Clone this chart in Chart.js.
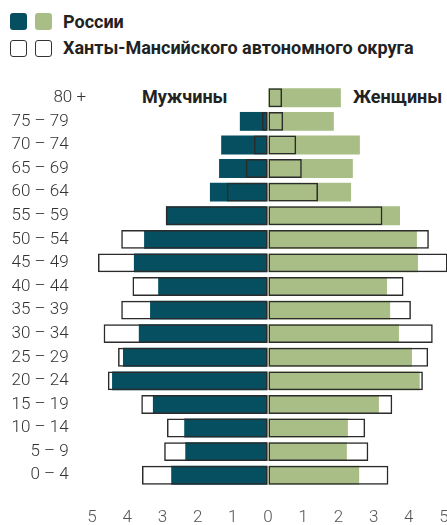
<!DOCTYPE html>
<html>
<head>
<meta charset="utf-8">
<script src="https://cdn.jsdelivr.net/npm/chart.js@4/dist/chart.umd.min.js"></script>
<style>
  html, body { margin: 0; padding: 0; background: #fff; overflow: hidden; }
  body { width: 447px; height: 525px; position: relative; font-family: Roboto, "Noto Sans", sans-serif; }
  #chart { position: absolute; left: 0; top: 0; }
  .sw { position: absolute; width: 17px; height: 17px; border-radius: 3px; box-sizing: border-box; }
  .lbl { position: absolute; font-weight: 700; color: #222; font-size: 18px; white-space: nowrap; line-height: 1; }
</style>
</head>
<body>
<div class="sw" style="left:10px;top:13px;background:#064f60"></div>
<div class="sw" style="left:35px;top:13px;background:#a9be86"></div>
<div class="lbl" style="left:63px;top:13px">России</div>
<div class="sw" style="left:10px;top:40px;border:1.5px solid #333;"></div>
<div class="sw" style="left:35px;top:40px;border:1.5px solid #333;"></div>
<div class="lbl" style="left:63px;top:39px">Ханты-Мансийского автономного округа</div>
<div class="lbl" style="left:142px;top:88px">Мужчины</div>
<div class="lbl" style="left:353px;top:88px">Женщины</div>
<canvas id="chart" width="460" height="530"></canvas>
<script>
// возрастные группы, сверху вниз
const categories = ["80 +", "75 – 79", "70 – 74", "65 – 69", "60 – 64", "55 – 59", "50 – 54", "45 – 49",
    "40 – 44", "35 – 39", "30 – 34", "25 – 29", "20 – 24", "15 – 19", "10 – 14", "5 – 9", "0 – 4"];

// доля, %
const russiaMen   = [0, 0.8, 1.33, 1.39, 1.65, 2.9, 3.52, 3.81, 3.12, 3.35, 3.67, 4.12, 4.43, 3.27, 2.38, 2.35, 2.75];
const russiaWomen = [2.07, 1.87, 2.61, 2.41, 2.36, 3.75, 4.23, 4.26, 3.38, 3.47, 3.72, 4.09, 4.31, 3.15, 2.27, 2.24, 2.59];
const hmaoMen     = [0, 0.17, 0.4, 0.63, 1.17, 2.9, 4.17, 4.83, 3.85, 4.17, 4.67, 4.26, 4.55, 3.6, 2.87, 2.95, 3.58];
const hmaoWomen   = [0.4, 0.43, 0.8, 0.96, 1.42, 3.25, 4.57, 5.1, 3.85, 4.06, 4.68, 4.55, 4.4, 3.53, 2.76, 2.85, 3.42];

const xTicks = [-5, -4, -3, -2, -1, 0, 1, 2, 3, 4, 5];

const neg = arr => arr.map(v => -v);

// пробелы в конце, чтобы "80 +" выступало вправо, как в оригинале
const yLabels = categories.map((c, i) => i === 0 ? c : c + "\u2002\u2002");

const outline = {
    backgroundColor: "rgba(0,0,0,0)",
    borderColor: "#2b2b2b",
    borderWidth: 1.5,
    borderSkipped: false,
    clip: false,
    order: 0
};

new Chart(document.getElementById("chart"), {
    type: "bar",
    data: {
        labels: yLabels,
        datasets: [
            { label: "ХМАО мужчины", data: neg(hmaoMen), ...outline },
            { label: "ХМАО женщины", data: hmaoWomen, ...outline },
            { label: "Россия мужчины", data: neg(russiaMen), backgroundColor: "#064f60", borderWidth: 0, order: 1 },
            { label: "Россия женщины", data: russiaWomen, backgroundColor: "#a9be86", borderWidth: 0, order: 1 }
        ]
    },
    options: {
        indexAxis: "y",
        responsive: false,
        animation: false,
        devicePixelRatio: 1,
        layout: { padding: { top: 86, right: 16, left: 0, bottom: 0 } },
        datasets: { bar: { barPercentage: 0.8, categoryPercentage: 1 } },
        plugins: { legend: { display: false }, tooltip: { enabled: false } },
        scales: {
            x: {
                min: -5,
                max: 5,
                afterBuildTicks: s => { s.ticks = xTicks.map(v => ({ value: v })); },
                afterFit: s => { s.height = 43; },
                // невидимые засечки только чтобы опустить подписи
                grid: { display: true, drawOnChartArea: false, drawTicks: true, tickLength: 21, color: "rgba(0,0,0,0)" },
                border: { display: false },
                ticks: {
                    padding: 0,
                    color: "#555",
                    font: { family: "Roboto", size: 17, weight: 300 },
                    callback: v => Math.abs(v)
                }
            },
            y: {
                stacked: true,
                afterFit: s => { s.width = 92; },
                grid: { display: false, drawTicks: false },
                border: { display: false },
                ticks: {
                    padding: 6,
                    color: "#333",
                    font: { family: "Roboto", size: 17, weight: 300 }
                }
            }
        }
    }
});
</script>
</body>
</html>
